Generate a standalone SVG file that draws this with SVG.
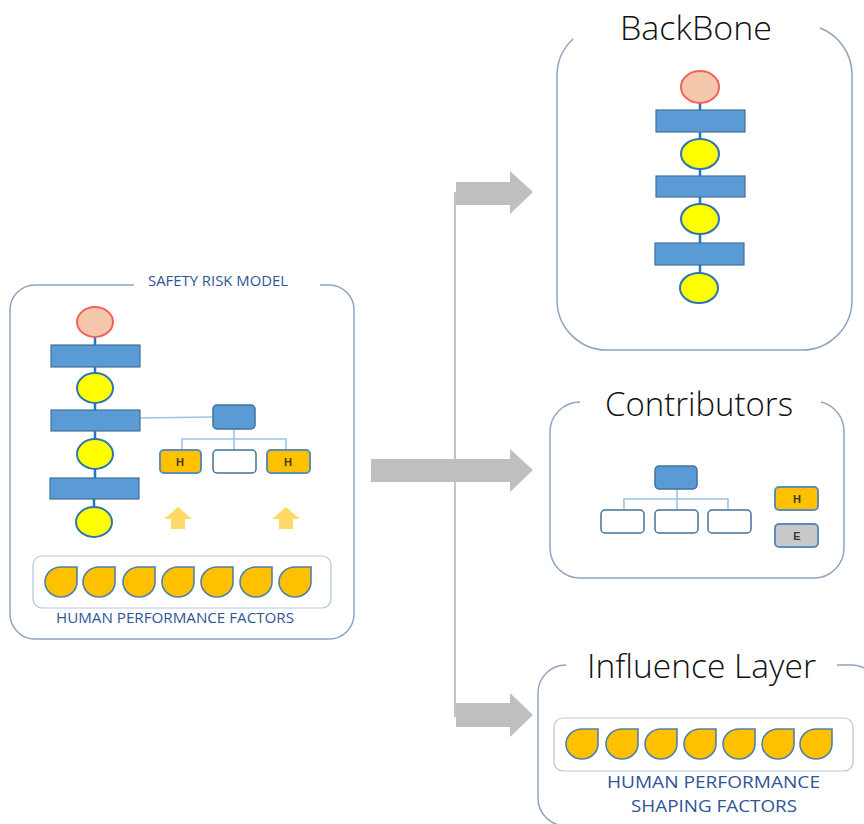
<svg xmlns="http://www.w3.org/2000/svg" width="864" height="824" viewBox="0 0 864 824">
<style>
.panel{fill:#fff;stroke:#8ea4c0;stroke-width:1.5}
.line{fill:none;stroke:#8ea4c0;stroke-width:1.5}
.start{fill:#f4c7ab;stroke:#f4605f;stroke-width:2}
.event{fill:#ffff00;stroke:#2e75b6;stroke-width:2}
.bar{fill:#5b9bd5;stroke:#41719c;stroke-width:1.2}
.stem{stroke:#1f78c1;stroke-width:2.5;fill:none}
.thin{stroke:#9dc3e6;stroke-width:1.6;fill:none}
.box{fill:#5b9bd5;stroke:#41719c;stroke-width:1.5}
.empty{fill:#fff;stroke:#41719c;stroke-width:1.5}
.hb{fill:#ffc000;stroke:#5b8db8;stroke-width:2}
.eb{fill:#c9c9c9;stroke:#5b8db8;stroke-width:2}
.lab{font-family:"Liberation Sans",sans-serif;font-size:11px;font-weight:bold;fill:#3b3b2e;text-anchor:middle}
.drop{fill:#ffc000;stroke:#4f81ac;stroke-width:1.6}
.holder{fill:#fff;stroke:#b4c7dc;stroke-width:1.2}
.big{font-family:"Open Sans",sans-serif;font-weight:300;font-size:33px;fill:#111}
.sm{font-family:"Open Sans",sans-serif;font-weight:400;fill:#2f5597}
.fat{fill:#bfbfbf}
.up{fill:#ffd966}
</style>
<defs>
<path id="d" d="M32 0V15A16 15 0 1 1 16 0Z"/>
</defs>

<g id="connectors">
<path d="M455 192V717" stroke="#c4c4c4" stroke-width="2" fill="none"/>
<path class="fat" d="M456 182H510V171L533 192L510 214V205H456Z"/>
<path class="fat" d="M371 459H510V449L533 470L510 492V482H371Z"/>
<path class="fat" d="M456 703H510V693L533 715L510 737V727H456Z"/>
</g>

<g id="safety-risk-model">
<path class="line" d="M134 285H35A25 25 0 0 0 10 310V614A25 25 0 0 0 35 639H329A25 25 0 0 0 354 614V310A25 25 0 0 0 329 285H320"/>
<text class="sm" x="148" y="286" font-size="14" textLength="140" lengthAdjust="spacingAndGlyphs">SAFETY RISK MODEL</text>
<path class="stem" d="M95 336V345M95 367V374M95 402V410M95 431V440M95 468V478M94 499V508"/>
<path class="thin" d="M140 418L213 417M234 429V450M182 450V439H286V450"/>
<ellipse class="start" cx="95" cy="322" rx="18" ry="15"/>
<rect class="bar" x="51" y="345" width="89" height="22"/>
<ellipse class="event" cx="95" cy="388" rx="18" ry="15"/>
<rect class="bar" x="51" y="410" width="89" height="21"/>
<ellipse class="event" cx="95" cy="454" rx="18" ry="15"/>
<rect class="bar" x="50" y="478" width="89" height="21"/>
<ellipse class="event" cx="94" cy="522" rx="18" ry="15"/>
<rect class="box" x="213" y="405" width="42" height="24" rx="4"/>
<rect class="hb" x="160" y="450" width="41" height="23" rx="4"/>
<text class="lab" x="180" y="466">H</text>
<rect class="empty" x="213" y="450" width="43" height="23" rx="4"/>
<rect class="hb" x="267" y="450" width="43" height="23" rx="4"/>
<text class="lab" x="288" y="466">H</text>
<path class="up" d="M178 507L192 519H185V529H171V519H164Z"/>
<path class="up" d="M286 507L300 519H293V529H279V519H272Z"/>
<rect class="holder" x="33" y="556" width="298" height="52" rx="9"/>
<use href="#d" class="drop" x="45" y="567"/>
<use href="#d" class="drop" x="83" y="567"/>
<use href="#d" class="drop" x="123" y="567"/>
<use href="#d" class="drop" x="162" y="567"/>
<use href="#d" class="drop" x="201" y="567"/>
<use href="#d" class="drop" x="240" y="567"/>
<use href="#d" class="drop" x="279" y="567"/>
<text class="sm" x="56" y="623" font-size="15" textLength="238" lengthAdjust="spacingAndGlyphs">HUMAN PERFORMANCE FACTORS</text>
</g>

<g id="backbone">
<path class="line" d="M573 39A50 50 0 0 0 557 75V300A50 50 0 0 0 607 350H802A50 50 0 0 0 852 300V75A50 50 0 0 0 820 28"/>
<text class="big" x="620" y="40" textLength="152" lengthAdjust="spacingAndGlyphs">BackBone</text>
<path class="stem" d="M700 102V110M700 132V140M700 168V176M700 197V205M700 233V243M700 265V274"/>
<ellipse class="start" cx="700" cy="87" rx="19" ry="16"/>
<rect class="bar" x="656" y="110" width="89" height="22"/>
<ellipse class="event" cx="700" cy="154" rx="19" ry="15"/>
<rect class="bar" x="656" y="176" width="89" height="21"/>
<ellipse class="event" cx="700" cy="219" rx="19" ry="15"/>
<rect class="bar" x="655" y="243" width="89" height="22"/>
<ellipse class="event" cx="699" cy="288" rx="19" ry="15"/>
</g>

<g id="contributors">
<path class="line" d="M577 402H580A30 30 0 0 0 550 432V548A30 30 0 0 0 580 578H814A30 30 0 0 0 844 548V432A30 30 0 0 0 821 402"/>
<text class="big" x="605" y="416" textLength="188" lengthAdjust="spacingAndGlyphs">Contributors</text>
<path class="thin" d="M677 489V510M624 510V499H728V510"/>
<rect class="box" x="655" y="466" width="42" height="23" rx="4"/>
<rect class="empty" x="601" y="510" width="43" height="23" rx="4"/>
<rect class="empty" x="655" y="510" width="43" height="23" rx="4"/>
<rect class="empty" x="708" y="510" width="43" height="23" rx="4"/>
<rect class="hb" x="775" y="487" width="43" height="23" rx="4"/>
<text class="lab" x="797" y="503">H</text>
<rect class="eb" x="775" y="524" width="43" height="23" rx="4"/>
<text class="lab" x="797" y="540">E</text>
</g>

<g id="influence-layer">
<path class="line" d="M566 665A28 28 0 0 0 538 693V798A28 28 0 0 0 566 826H880M837 665H852Q860 665 866 669"/>
<text class="big" x="587" y="678" textLength="229" lengthAdjust="spacingAndGlyphs">Influence Layer</text>
<rect class="holder" x="554" y="718" width="299" height="53" rx="9"/>
<use href="#d" class="drop" x="566" y="729"/>
<use href="#d" class="drop" x="606" y="729"/>
<use href="#d" class="drop" x="645" y="729"/>
<use href="#d" class="drop" x="684" y="729"/>
<use href="#d" class="drop" x="723" y="729"/>
<use href="#d" class="drop" x="762" y="729"/>
<use href="#d" class="drop" x="800" y="729"/>
<text class="sm" x="607" y="788" font-size="17" textLength="213" lengthAdjust="spacingAndGlyphs">HUMAN PERFORMANCE</text>
<text class="sm" x="631" y="812" font-size="17" textLength="166" lengthAdjust="spacingAndGlyphs">SHAPING FACTORS</text>
</g>
</svg>
